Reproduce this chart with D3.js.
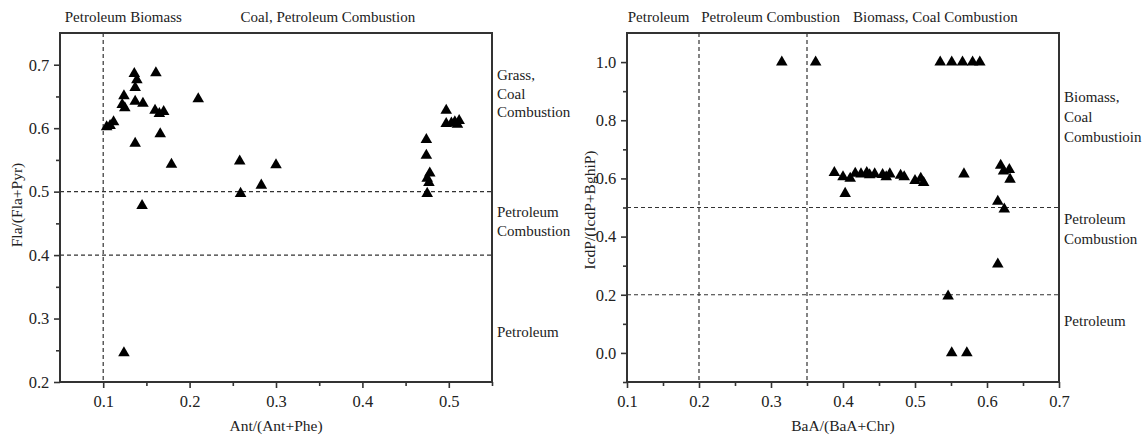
<!DOCTYPE html>
<html lang="en">
<head>
<meta charset="utf-8">
<title>PAH diagnostic ratios</title>
<script src="https://d3js.org/d3.v7.min.js"></script>
<style>
  body { margin: 0; background: #fff; }
  svg text { font-family: "Liberation Serif", "Times New Roman", serif; fill: #222; }
  .axis path, .axis line { stroke: #333; }
  .axis text { font-size: 16.5px; font-family: "Liberation Serif", serif; fill: #222; }
</style>
</head>
<body>
<div id="chart"></div>
<script>
// left panel: Ant/(Ant+Phe) vs Fla/(Fla+Pyr)
var antPhe = [0.104,0.108,0.112,0.124,0.122,0.125,0.136,0.139,0.137,0.137,0.146,0.137,0.145,0.161,0.160,0.165,0.170,0.166,0.179,0.210,0.258,0.259,0.283,0.300,0.124,0.497,0.497,0.503,0.507,0.510,0.512,0.474,0.474,0.478,0.475,0.477,0.475];
var flaPyr = [0.602,0.604,0.610,0.651,0.637,0.632,0.686,0.676,0.664,0.642,0.639,0.576,0.478,0.687,0.628,0.623,0.626,0.591,0.543,0.646,0.548,0.497,0.510,0.542,0.246,0.628,0.607,0.608,0.610,0.606,0.612,0.582,0.557,0.529,0.521,0.514,0.497];

// right panel: BaA/(BaA+Chr) vs IcdP/(IcdP+BghiP)
var baaChr = [0.315,0.362,0.535,0.551,0.566,0.580,0.590,0.388,0.400,0.403,0.410,0.417,0.425,0.433,0.437,0.444,0.455,0.460,0.465,0.480,0.485,0.500,0.508,0.512,0.568,0.619,0.623,0.631,0.632,0.615,0.624,0.615,0.546,0.551,0.572];
var icdp = [1.0,1.0,1.0,1.0,1.0,1.0,1.0,0.620,0.605,0.548,0.600,0.617,0.615,0.620,0.612,0.615,0.613,0.605,0.615,0.610,0.605,0.592,0.600,0.585,0.615,0.645,0.625,0.630,0.597,0.521,0.494,0.305,0.195,0.0,0.0];

var leftXTicks = [0.1,0.2,0.3,0.4,0.5], leftXMinor = [0.15,0.25,0.35,0.45,0.55];
var leftYTicks = [0.2,0.3,0.4,0.5,0.6,0.7], leftYMinor = [0.25,0.35,0.45,0.55,0.65];
var rightXTicks = [0.1,0.2,0.3,0.4,0.5,0.6,0.7], rightXMinor = [0.15,0.25,0.35,0.45,0.55,0.65];
var rightYTicks = [0.0,0.2,0.4,0.6,0.8,1.0], rightYMinor = [-0.1,0.1,0.3,0.5,0.7,0.9];

var leftVLines = [0.1], leftHLines = [0.5, 0.4];
var rightVLines = [0.2, 0.35], rightHLines = [0.5, 0.2];

var leftTop = [["Petroleum Biomass", 0.0555], ["Coal, Petroleum Combustion", 0.259]];
var rightTop = [["Petroleum", 0.101], ["Petroleum Combustion", 0.203], ["Biomass, Coal Combustion", 0.414]];
var leftSide = [[["Grass,","Coal","Combustion"], 80, 18.5], [["Petroleum","Combustion"], 217, 18.5], [["Petroleum"], 337, 18]];
var rightSide = [[["Biomass,","Coal","Combustioin"], 102, 20], [["Petroleum","Combustion"], 224, 20], [["Petroleum"], 326, 20]];

var svg = d3.select("#chart").append("svg")
  .attr("width", 1142).attr("height", 436)
  .attr("font-family", "Liberation Serif, serif");

function panel(o) {
  var w = 432, h = 349;
  var x = d3.scaleLinear().domain(o.xDomain).range([0, w]);
  var y = d3.scaleLinear().domain(o.yDomain).range([h, 0]);
  var g = svg.append("g").attr("transform", "translate(" + o.left + ",33)");

  // minor ticks
  g.append("g").attr("class", "axis").attr("transform", "translate(0," + h + ")")
    .call(d3.axisBottom(x).tickValues(o.xMinor).tickSize(4).tickSizeOuter(0).tickFormat(""))
    .select(".domain").remove();
  g.append("g").attr("class", "axis")
    .call(d3.axisLeft(y).tickValues(o.yMinor).tickSize(4).tickSizeOuter(0).tickFormat(""))
    .select(".domain").remove();

  // major ticks
  var xa = g.append("g").attr("class", "axis").attr("transform", "translate(0," + h + ")")
    .call(d3.axisBottom(x).tickValues(o.xTicks).tickSize(6).tickSizeOuter(0).tickFormat(d3.format(".1f")));
  xa.selectAll("text").attr("dy", "0.95em").attr("font-family", "Liberation Serif, serif");
  var ya = g.append("g").attr("class", "axis")
    .call(d3.axisLeft(y).tickValues(o.yTicks).tickSize(6).tickSizeOuter(0).tickFormat(d3.format(".1f")));
  ya.selectAll("text").attr("dx", "-0.1em").attr("font-family", "Liberation Serif, serif");
  g.selectAll(".axis").attr("font-family", "Liberation Serif, serif");
  g.selectAll(".axis line").attr("stroke-width", 1.6);
  g.selectAll(".axis .domain").remove();

  // dashed guides
  g.selectAll(".vl").data(o.vLines).enter().append("line")
    .attr("x1", d => x(d)).attr("x2", d => x(d)).attr("y1", 0).attr("y2", h)
    .attr("stroke", "#333").attr("stroke-width", 1.2).attr("stroke-dasharray", "4,3");
  g.selectAll(".hl").data(o.hLines).enter().append("line")
    .attr("x1", 0).attr("x2", w).attr("y1", d => y(d)).attr("y2", d => y(d))
    .attr("stroke", "#333").attr("stroke-width", 1.2).attr("stroke-dasharray", "4,3");

  // frame
  g.append("rect").attr("width", w).attr("height", h)
    .attr("fill", "none").attr("stroke", "#333").attr("stroke-width", 2);

  // points
  var tri = d3.symbol().type(d3.symbolTriangle).size(58);
  g.selectAll(".pt").data(o.xs).enter().append("path")
    .attr("d", tri)
    .attr("transform", (d, i) => "translate(" + x(d) + "," + y(o.ys[i]) + ")")
    .attr("fill", "#000");

  // top region labels
  o.top.forEach(function (t) {
    g.append("text").attr("x", x(t[1])).attr("y", -11)
      .style("font-size", "15px").text(t[0]);
  });

  // right side labels
  o.side.forEach(function (s) {
    s[0].forEach(function (line, k) {
      g.append("text").attr("x", w + 5).attr("y", s[1] - 33 + k * s[2])
        .style("font-size", "15px").text(line);
    });
  });

  // axis titles
  g.append("text").attr("x", w / 2).attr("y", 398).attr("text-anchor", "middle")
    .style("font-size", "15.5px").text(o.xTitle);
  g.append("text").attr("transform", "translate(" + o.yTitleX + "," + o.yTitleMid + ") rotate(-90)")
    .attr("text-anchor", "middle").style("font-size", "15.5px").text(o.yTitle);
}

panel({
  left: 60, xDomain: [0.05, 0.55], yDomain: [0.2, 0.75],
  xTicks: leftXTicks, xMinor: leftXMinor, yTicks: leftYTicks, yMinor: leftYMinor,
  vLines: leftVLines, hLines: leftHLines, xs: antPhe, ys: flaPyr,
  top: leftTop, side: leftSide,
  xTitle: "Ant/(Ant+Phe)", yTitle: "Fla/(Fla+Pyr)", yTitleX: -38, yTitleMid: 172
});

panel({
  left: 627, xDomain: [0.1, 0.7], yDomain: [-0.1, 1.1],
  xTicks: rightXTicks, xMinor: rightXMinor, yTicks: rightYTicks, yMinor: rightYMinor,
  vLines: rightVLines, hLines: rightHLines, xs: baaChr, ys: icdp,
  top: rightTop, side: rightSide,
  xTitle: "BaA/(BaA+Chr)", yTitle: "IcdP/(IcdP+BghiP)", yTitleX: -32, yTitleMid: 177
});
</script>
</body>
</html>
